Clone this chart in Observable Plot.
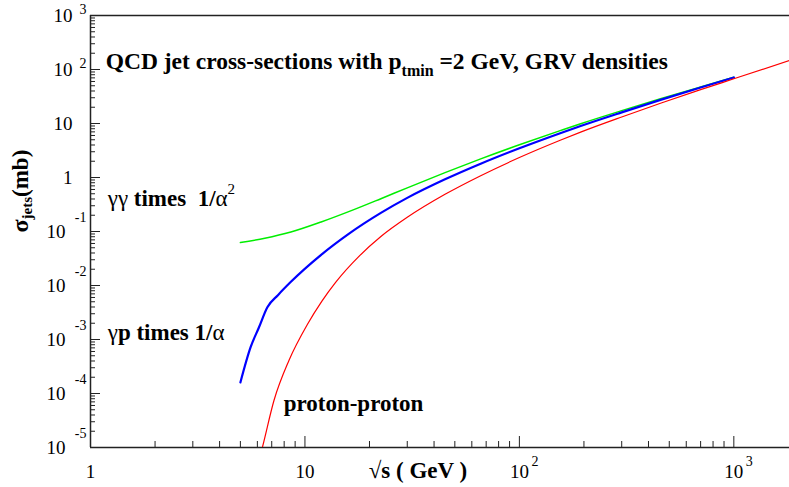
<!DOCTYPE html>
<html>
<head>
<meta charset="utf-8">
<script src="https://cdn.jsdelivr.net/npm/d3@7"></script>
<script src="https://cdn.jsdelivr.net/npm/@observablehq/plot@0.6"></script>
<style>body{margin:0;background:#fff}</style>
</head>
<body>
<div id="chart"></div>
<script>
// ---- data ----
// gamma-gamma times 1/alpha^2 (green)
const ggX = [5, 6.5, 8.6, 11.9, 16, 22.6, 30, 45, 66, 100, 155, 193, 300, 455, 700, 1000];
const ggY = [0.0625, 0.0750, 0.0977, 0.150, 0.233, 0.405, 0.644, 1.23, 2.21, 4.04, 7.38, 9.91, 17.3, 28.7, 47.5, 71.6];
// gamma-p times 1/alpha (blue)
const gpX = [5, 5.58, 6.1, 6.68, 7.5, 8.6, 11.9, 16, 22.6, 30, 45, 66, 100, 155, 193, 300, 455, 700, 1000];
const gpY = [1.6e-4, 7.2e-4, 1.67e-3, 3.96e-3, 6.7e-3, 0.0117, 0.0370, 0.0904, 0.221, 0.419, 0.925, 1.80, 3.48, 6.62, 9.00, 16.1, 27.4, 46.5, 71.1];
// proton-proton (red)
const ppX = [6.15, 6.33, 7.17, 8.42, 10.26, 12, 13.9, 18, 22.6, 30, 45, 66, 100, 155, 193, 300, 455, 700, 1000, 1818];
const ppY = [6.5e-6, 1.0e-5, 7.41e-5, 4.08e-4, 1.89e-3, 5.13e-3, 0.0114, 0.0357, 0.0807, 0.183, 0.488, 1.08, 2.34, 4.89, 6.92, 13.2, 23.7, 42.3, 67.3, 147];

const xExponents = [0, 1, 2, 3];
const yExponents = [-5, -4, -3, -2, -1, 0, 1, 2, 3];
const minorMultipliers = [2, 3, 4, 5, 6, 7, 8, 9];
const xDomain = [1, 1818];
const yDomain = [1e-5, 1e3];

// ---- build tables ----
const toRows = (xs, ys) => xs.map((x, i) => ({x, y: ys[i]}));
const gg = toRows(ggX, ggY), gp = toRows(gpX, gpY), pp = toRows(ppX, ppY);

const xMajor = xExponents.map(e => 10 ** e);
const yMajor = yExponents.map(e => 10 ** e);
const xMinor = xExponents.flatMap(e => minorMultipliers.map(m => m * 10 ** e)).filter(v => v < xDomain[1]);
const yMinor = yExponents.slice(0, -1).flatMap(e => minorMultipliers.map(m => m * 10 ** e));
const xTickRows = xExponents.map(e => ({v: 10 ** e, e}));
const yTickRows = yExponents.map(e => ({v: 10 ** e, e}));

const FONT = '"Liberation Serif", "Times New Roman", serif';
const ctx = document.createElement("canvas").getContext("2d");
function textWidth(t, size, weight) {
  ctx.font = `${weight} ${size}px ${FONT}`;
  return ctx.measureText(t).width;
}
// a run of text pieces laid one after the other from an anchor in data space
function richText(runs, x, y, rotated = false) {
  let off = 0;
  return runs.map(r => {
    const m = Plot.text([{x, y}], {
      x: "x", y: "y", text: () => r.text,
      fontSize: r.size, fontWeight: r.weight, fontFamily: FONT,
      textAnchor: "start", lineAnchor: "bottom",
      rotate: rotated ? -90 : 0,
      dx: rotated ? (r.shift || 0) : off,
      dy: rotated ? -off : (r.shift || 0),
      fill: "black"
    });
    off += textWidth(r.text, r.size, r.weight);
    return m;
  });
}

const AX = "#222";
const chart = Plot.plot({
  width: 789,
  height: 487,
  marginLeft: 90,
  marginRight: 0,
  marginTop: 15,
  marginBottom: 40,
  style: {fontFamily: FONT, background: "white", overflow: "visible"},
  x: {type: "log", domain: xDomain, axis: null},
  y: {type: "log", domain: yDomain, axis: null},
  marks: [
    // ticks (inward)
    Plot.axisX(xMajor, {tickSize: -11, fill: "none", stroke: AX, label: null}),
    Plot.axisX(xMinor, {tickSize: -6, fill: "none", stroke: AX, label: null}),
    Plot.axisY(yMajor, {tickSize: -10, fill: "none", stroke: AX, label: null}),
    Plot.axisY(yMinor, {tickSize: -5, fill: "none", stroke: AX, label: null}),
    // frame lines
    Plot.ruleY([yDomain[0], yDomain[1]], {stroke: AX, strokeWidth: 1.5}),
    Plot.ruleX([xDomain[0]], {stroke: AX, strokeWidth: 1.5}),
    // y tick labels
    Plot.text(yTickRows.filter(d => d.e >= 0), {frameAnchor: "left", y: "v", text: d => d.e === 0 ? "1" : "10",
      textAnchor: "end", dx: -18, fontSize: 19, fontFamily: FONT, fill: "black"}),
    Plot.text(yTickRows.filter(d => d.e < 0), {frameAnchor: "left", y: "v", text: () => "10",
      textAnchor: "end", dx: -25, fontSize: 19, fontFamily: FONT, fill: "black"}),
    Plot.text(yTickRows.filter(d => d.e >= 2), {frameAnchor: "left", y: "v", text: d => String(d.e),
      textAnchor: "start", dx: -11, dy: -6, fontSize: 14, fontFamily: FONT, fill: "black"}),
    Plot.text(yTickRows.filter(d => d.e < 0), {frameAnchor: "left", y: "v", text: d => "-" + Math.abs(d.e),
      textAnchor: "end", dx: -4, dy: -14, fontSize: 14, fontFamily: FONT, fill: "black"}),
    // x tick labels
    Plot.text(xTickRows, {frameAnchor: "bottom", x: "v", text: d => d.e === 0 ? "1" : "10",
      textAnchor: "middle", lineAnchor: "bottom", dy: 30, fontSize: 19, fontFamily: FONT, fill: "black"}),
    Plot.text(xTickRows.filter(d => d.e >= 2), {frameAnchor: "bottom", x: "v", text: d => String(d.e),
      textAnchor: "start", lineAnchor: "bottom", dx: 12, dy: 18, fontSize: 14, fontFamily: FONT, fill: "black"}),
    // curves
    Plot.line(gg, {x: "x", y: "y", stroke: "#00ee00", strokeWidth: 1.5, curve: "monotone-x"}),
    Plot.line(gp, {x: "x", y: "y", stroke: "#0000ff", strokeWidth: 2.2, curve: "monotone-x"}),
    Plot.line(pp, {x: "x", y: "y", stroke: "#ff0000", strokeWidth: 1.2, curve: "monotone-x", clip: true}),
    // annotations
    ...richText([
      {text: "QCD jet cross-sections with p", size: 23.5, weight: "bold"},
      {text: "tmin", size: 16, weight: "bold", shift: 7},
      {text: "\u00a0=2 GeV, GRV densities", size: 23.5, weight: "bold"}
    ], 1.177, 104.3),
    ...richText([
      {text: "\u03b3\u03b3", size: 23, weight: "normal"},
      {text: "\u00a0times\u00a0\u00a01/", size: 23, weight: "bold"},
      {text: "\u03b1", size: 23, weight: "normal"},
      {text: "2", size: 15, weight: "normal", shift: -12}
    ], 1.203, 0.303),
    ...richText([
      {text: "\u03b3", size: 23, weight: "normal"},
      {text: "p times 1/", size: 23, weight: "bold"},
      {text: "\u03b1", size: 23, weight: "normal"}
    ], 1.203, 0.001),
    ...richText([{text: "proton-proton", size: 23, weight: "bold"}], 7.958, 4.84e-5),
    ...richText([
      {text: "\u221a", size: 23, weight: "normal"},
      {text: "s ( GeV )", size: 23, weight: "bold"}
    ], 19.82, 2.78e-6),
    ...richText([
      {text: "\u03c3", size: 24, weight: "bold"},
      {text: "jets", size: 15, weight: "bold", shift: 4},
      {text: "(mb)", size: 23, weight: "bold"}
    ], 0.5096, 0.0958, true)
  ]
});
document.getElementById("chart").appendChild(chart);
</script>
</body>
</html>
